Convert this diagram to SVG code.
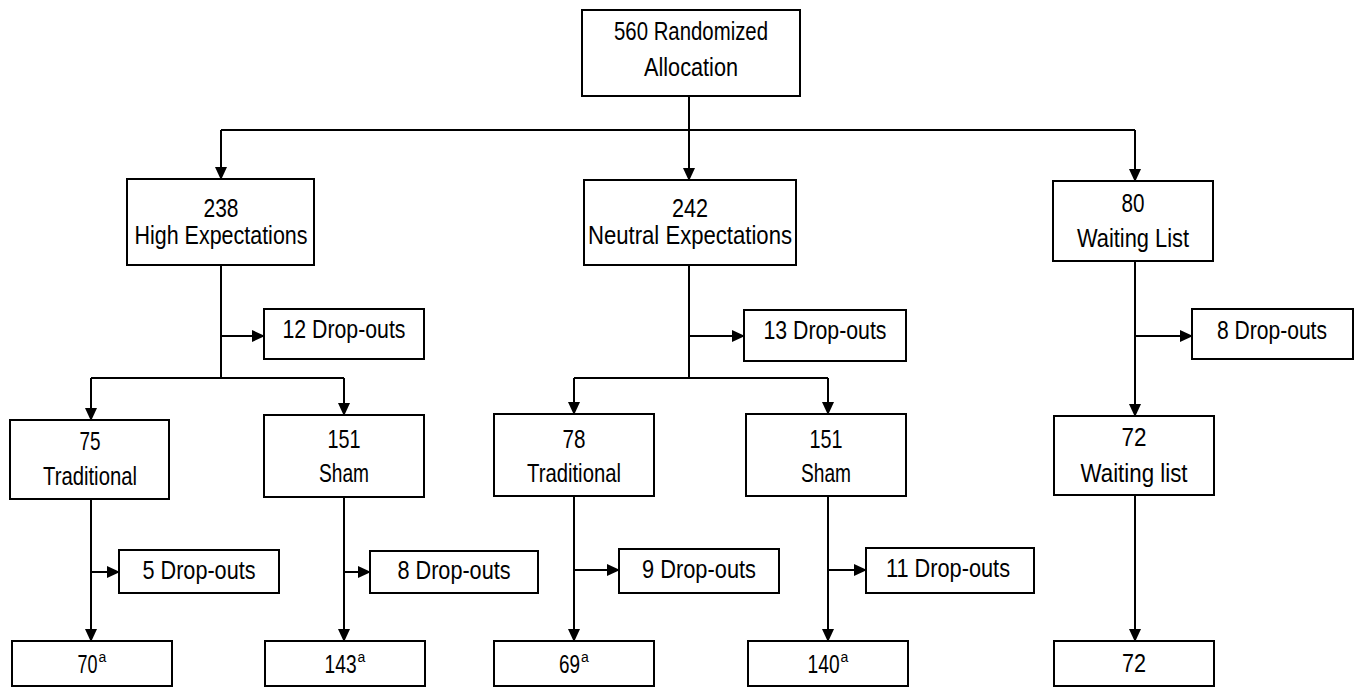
<svg xmlns="http://www.w3.org/2000/svg" width="1360" height="687" viewBox="0 0 1360 687">
<style>
.box{fill:#fff;stroke:#000;stroke-width:2}
.t{font-family:"Liberation Sans Narrow","Liberation Sans",Arial,sans-serif;font-size:26px;fill:#000;text-anchor:middle}
.c{fill:none;stroke:#000;stroke-width:2}
.sup{font-size:14px}
</style>
<defs>
<marker id="ah" markerUnits="userSpaceOnUse" markerWidth="13" markerHeight="12" refX="12" refY="6" orient="auto" viewBox="0 0 13 12">
<path d="M0,0 L13,6 L0,12 z" fill="#000"/>
</marker>
</defs>
<rect width="1360" height="687" fill="#fff"/>
<g id="connectors">
<path class="c" d="M689,96 V180" marker-end="url(#ah)"/>
<path class="c" d="M221,130 H1135"/>
<path class="c" d="M221,130 V179" marker-end="url(#ah)"/>
<path class="c" d="M1135,130 V181" marker-end="url(#ah)"/>
<path class="c" d="M221,265 V378"/>
<path class="c" d="M221,336 H264" marker-end="url(#ah)"/>
<path class="c" d="M91,378 H344"/>
<path class="c" d="M91,378 V420" marker-end="url(#ah)"/>
<path class="c" d="M344,378 V415" marker-end="url(#ah)"/>
<path class="c" d="M689,265 V378"/>
<path class="c" d="M689,336 H744" marker-end="url(#ah)"/>
<path class="c" d="M574,378 H828"/>
<path class="c" d="M574,378 V414" marker-end="url(#ah)"/>
<path class="c" d="M828,378 V414" marker-end="url(#ah)"/>
<path class="c" d="M1135,261 V416" marker-end="url(#ah)"/>
<path class="c" d="M1135,336 H1192" marker-end="url(#ah)"/>
<path class="c" d="M91,499 V641" marker-end="url(#ah)"/>
<path class="c" d="M91,572 H119" marker-end="url(#ah)"/>
<path class="c" d="M344,497 V641" marker-end="url(#ah)"/>
<path class="c" d="M344,572 H370" marker-end="url(#ah)"/>
<path class="c" d="M574,496 V641" marker-end="url(#ah)"/>
<path class="c" d="M574,570 H619" marker-end="url(#ah)"/>
<path class="c" d="M828,496 V641" marker-end="url(#ah)"/>
<path class="c" d="M828,570 H866" marker-end="url(#ah)"/>
<path class="c" d="M1135,495 V641" marker-end="url(#ah)"/>
</g>
<g id="n-root"><rect class="box" x="582" y="10" width="218" height="86"/><text class="t" x="691" y="40" textLength="154" lengthAdjust="spacingAndGlyphs">560 Randomized</text><text class="t" x="691" y="76" textLength="94" lengthAdjust="spacingAndGlyphs">Allocation</text></g>
<g id="n-high"><rect class="box" x="127" y="179" width="187" height="86"/><text class="t" x="221" y="217" textLength="35" lengthAdjust="spacingAndGlyphs">238</text><text class="t" x="221" y="244" textLength="173" lengthAdjust="spacingAndGlyphs">High Expectations</text></g>
<g id="n-neutral"><rect class="box" x="584" y="180" width="212" height="85"/><text class="t" x="690" y="217" textLength="36" lengthAdjust="spacingAndGlyphs">242</text><text class="t" x="690" y="244" textLength="204" lengthAdjust="spacingAndGlyphs">Neutral Expectations</text></g>
<g id="n-wait"><rect class="box" x="1053" y="181" width="160" height="80"/><text class="t" x="1133" y="212" textLength="23" lengthAdjust="spacingAndGlyphs">80</text><text class="t" x="1133" y="247" textLength="112" lengthAdjust="spacingAndGlyphs">Waiting List</text></g>
<g id="n-d12"><rect class="box" x="264" y="309" width="160" height="50"/><text class="t" x="344" y="338" textLength="123" lengthAdjust="spacingAndGlyphs">12 Drop-outs</text></g>
<g id="n-d13"><rect class="box" x="744" y="310" width="162" height="51"/><text class="t" x="825" y="339" textLength="123" lengthAdjust="spacingAndGlyphs">13 Drop-outs</text></g>
<g id="n-d8w"><rect class="box" x="1192" y="309" width="161" height="50"/><text class="t" x="1272" y="339" textLength="110" lengthAdjust="spacingAndGlyphs">8 Drop-outs</text></g>
<g id="n-trad75"><rect class="box" x="10" y="420" width="159" height="79"/><text class="t" x="90" y="450" textLength="21" lengthAdjust="spacingAndGlyphs">75</text><text class="t" x="90" y="485" textLength="94" lengthAdjust="spacingAndGlyphs">Traditional</text></g>
<g id="n-sham151a"><rect class="box" x="264" y="415" width="160" height="82"/><text class="t" x="344" y="448" textLength="33" lengthAdjust="spacingAndGlyphs">151</text><text class="t" x="344" y="482" textLength="50" lengthAdjust="spacingAndGlyphs">Sham</text></g>
<g id="n-trad78"><rect class="box" x="494" y="414" width="160" height="82"/><text class="t" x="574" y="448" textLength="23" lengthAdjust="spacingAndGlyphs">78</text><text class="t" x="574" y="482" textLength="94" lengthAdjust="spacingAndGlyphs">Traditional</text></g>
<g id="n-sham151b"><rect class="box" x="746" y="414" width="160" height="82"/><text class="t" x="826" y="448" textLength="33" lengthAdjust="spacingAndGlyphs">151</text><text class="t" x="826" y="482" textLength="50" lengthAdjust="spacingAndGlyphs">Sham</text></g>
<g id="n-wait72"><rect class="box" x="1054" y="416" width="160" height="79"/><text class="t" x="1134" y="446" textLength="25" lengthAdjust="spacingAndGlyphs">72</text><text class="t" x="1134" y="482" textLength="107" lengthAdjust="spacingAndGlyphs">Waiting list</text></g>
<g id="n-d5"><rect class="box" x="119" y="550" width="160" height="43"/><text class="t" x="199" y="579" textLength="113" lengthAdjust="spacingAndGlyphs">5 Drop-outs</text></g>
<g id="n-d8"><rect class="box" x="370" y="551" width="168" height="42"/><text class="t" x="454" y="579" textLength="113" lengthAdjust="spacingAndGlyphs">8 Drop-outs</text></g>
<g id="n-d9"><rect class="box" x="619" y="549" width="160" height="44"/><text class="t" x="699" y="578" textLength="114" lengthAdjust="spacingAndGlyphs">9 Drop-outs</text></g>
<g id="n-d11"><rect class="box" x="866" y="548" width="168" height="45"/><text class="t" x="948" y="577" textLength="124" lengthAdjust="spacingAndGlyphs">11 Drop-outs</text></g>
<g id="n-f70"><rect class="box" x="12" y="641" width="160" height="45"/><text class="t" x="92" y="673"><tspan textLength="20" lengthAdjust="spacingAndGlyphs">70</tspan><tspan class="sup" dx="1" dy="-11">a</tspan></text></g>
<g id="n-f143"><rect class="box" x="265" y="641" width="160" height="45"/><text class="t" x="345" y="673"><tspan textLength="32" lengthAdjust="spacingAndGlyphs">143</tspan><tspan class="sup" dx="1" dy="-11">a</tspan></text></g>
<g id="n-f69"><rect class="box" x="494" y="641" width="160" height="45"/><text class="t" x="574" y="673"><tspan textLength="21" lengthAdjust="spacingAndGlyphs">69</tspan><tspan class="sup" dx="1" dy="-11">a</tspan></text></g>
<g id="n-f140"><rect class="box" x="748" y="641" width="160" height="45"/><text class="t" x="828" y="673"><tspan textLength="32" lengthAdjust="spacingAndGlyphs">140</tspan><tspan class="sup" dx="1" dy="-11">a</tspan></text></g>
<g id="n-f72"><rect class="box" x="1054" y="641" width="160" height="45"/><text class="t" x="1134" y="672" textLength="24" lengthAdjust="spacingAndGlyphs">72</text></g>
</svg>
